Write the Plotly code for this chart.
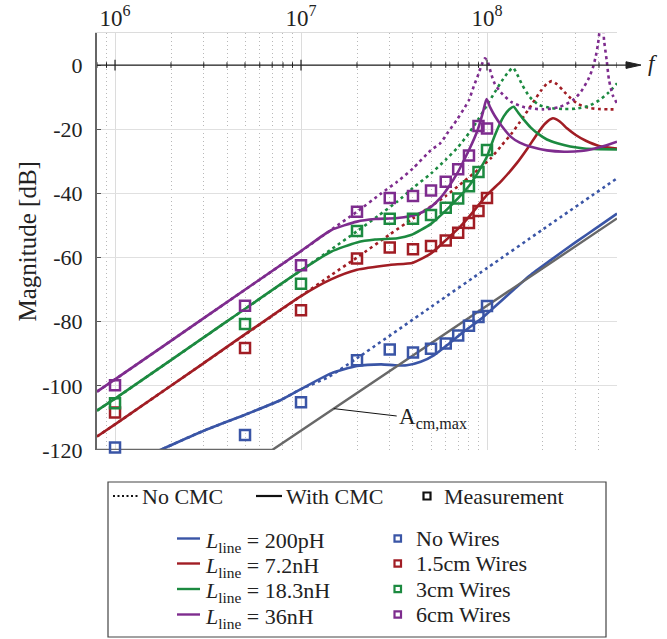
import math
import plotly.graph_objects as go

# ---------------- data ----------------
meas_f = [1e6, 5e6, 1e7, 2e7, 3e7, 4e7, 5e7, 6e7, 7e7, 8e7, 9e7, 1e8]
meas_blue = [-119.2, -115.3, -105.1, -92.0, -88.7, -89.6, -88.4, -86.8, -84.3, -81.3, -78.5, -75.1]
meas_red = [-108.3, -88.2, -76.4, -60.3, -56.9, -57.4, -56.4, -54.7, -52.3, -49.2, -45.5, -41.4]
meas_green = [-105.4, -80.7, -68.2, -51.7, -47.9, -47.9, -46.7, -44.5, -41.6, -37.8, -33.3, -26.5]
meas_purple = [-99.8, -75.0, -62.4, -45.7, -41.4, -40.8, -39.1, -36.4, -32.5, -28.2, -19.0, -19.8]

# No CMC (dotted)
blue_nocmc_f = [1e6, 1.75e6, 3e6, 5e6, 7.8e6, 1e7, 1.4e7, 2e7, 5e7, 1e8, 2e8, 5e8]
blue_nocmc_v = [-126, -120, -114, -109, -104.4, -101, -97.3, -91.4, -75.4, -63.3, -51.2, -35.3]

red_nocmc_f = [8e5, 1e6, 3e6, 1e7, 1.45e7, 2e7, 3e7, 4e7, 5e7, 6e7, 7.5e7, 9e7, 1.05e8, 1.2e8,
               1.35e8, 1.5e8, 1.65e8, 1.8e8, 1.95e8, 2.1e8, 2.23e8, 2.38e8, 2.55e8, 2.8e8,
               3.1e8, 3.5e8, 4e8, 4.5e8, 5e8]
red_nocmc_v = [-115.8, -112, -92.9, -72, -65.5, -60, -52.8, -47.8, -44, -40.8, -36.3, -32.5, -29,
               -25, -21.5, -17.8, -14.3, -11, -8, -5.8, -5.0, -6.0, -7.8, -10.2, -12.2, -13.3,
               -13.7, -13.8, -13.8]

green_nocmc_f = [8e5, 1e6, 3e6, 1e7, 1.45e7, 2e7, 2.6e7, 3.3e7, 4e7, 5e7, 6e7, 7e7, 8e7, 9e7,
                 1e8, 1.1e8, 1.2e8, 1.3e8, 1.38e8, 1.45e8, 1.55e8, 1.7e8, 1.9e8, 2.2e8, 2.6e8,
                 3e8, 3.5e8, 4e8, 4.5e8, 5e8]
green_nocmc_v = [-107.7, -104, -84.9, -64, -57.5, -51.8, -47, -42.5, -38.3, -33.8, -29.5, -25.5,
                 -21.2, -16.8, -12.5, -8.5, -5, -2.2, -0.8, -2.8, -6.3, -10, -12.4, -13.4,
                 -13.7, -13.6, -12.8, -11.0, -8.6, -5.7]

purple_nocmc_f = [8e5, 1e6, 3e6, 1e7, 1.45e7, 2e7, 2.7e7, 3.3e7, 4e7, 5e7, 5.6e7, 6.2e7, 6.9e7,
                  7.5e7, 8e7, 8.5e7, 9e7, 9.4e7, 9.75e7, 1.01e8, 1.05e8, 1.1e8, 1.19e8, 1.35e8,
                  1.6e8, 2e8, 2.45e8, 2.9e8, 3.2e8, 3.5e8, 3.7e8, 3.84e8, 3.95e8, 4.05e8,
                  4.13e8, 4.2e8, 4.26e8, 4.4e8, 4.53e8, 4.75e8, 5e8]
purple_nocmc_v = [-101.8, -98, -78.9, -58, -51.4, -45.7, -40.0, -36.3, -32.2, -26.5, -24.4,
                  -20.8, -17.0, -13.7, -10.9, -6.5, -2.8, 0.3, 2.1, 1.0, -2.5, -5.8, -8.6,
                  -11.5, -13.2, -13.8, -13.1, -10.9, -8.3, -4.5, -1.0, 2.6, 6.5, 12.0, 18.0,
                  13.0, 7.8, 1.5, -4.7, -9.5, -11.9]

# With CMC (solid)
blue_cmc_f = [1e6, 1.75e6, 3e6, 5e6, 7.8e6, 1e7, 1.45e7, 2e7, 2.7e7, 3.2e7, 3.7e7, 4.4e7, 5.2e7,
              6.1e7, 7.5e7, 9.25e7, 1.05e8, 1.2e8, 1.4e8, 1.7e8, 2.2e8, 3e8, 4e8, 5e8]
blue_cmc_v = [-126, -120, -114, -109, -104.4, -101, -96.1, -93.8, -93.3, -93.6, -93.6, -92.5,
              -90.4, -87.3, -83.1, -79.2, -76.4, -73.4, -69.9, -65.6, -60.8, -55.2, -50.2, -46.3]

red_cmc_f = [8e5, 1e6, 3e6, 1e7, 1.45e7, 2e7, 3e7, 4e7, 5e7, 5.9e7, 7e7, 8e7, 1e8, 1.2e8, 1.45e8,
             1.65e8, 1.87e8, 2.05e8, 2.26e8, 2.45e8, 2.7e8, 3e8, 3.4e8, 4e8, 5e8]
red_cmc_v = [-115.8, -112, -92.9, -72, -66.8, -63.8, -62.3, -61.6, -58.7, -55, -51, -47.3, -40.5,
             -36, -30.5, -26, -21.3, -18.3, -16.6, -17.5, -19.8, -21.8, -23.6, -25.2, -26.0]

green_cmc_f = [8e5, 1e6, 3e6, 1e7, 1.45e7, 2e7, 2.5e7, 3.3e7, 3.9e7, 5e7, 6.1e7, 7e7, 8e7, 9e7,
               1e8, 1.1e8, 1.23e8, 1.32e8, 1.39e8, 1.47e8, 1.58e8, 1.72e8, 1.87e8, 2.1e8,
               2.39e8, 2.8e8, 3.33e8, 4e8, 5e8]
green_cmc_v = [-107.7, -104, -84.9, -64, -58.2, -55.3, -54.4, -54.0, -53.0, -49.5, -45, -41.5,
               -37.7, -33.2, -28.5, -22, -16, -13.8, -13.0, -14.8, -17.1, -19.5, -21.3, -23.2,
               -24.4, -25.4, -26.0, -26.2, -26.3]

purple_cmc_f = [8e5, 1e6, 3e6, 1e7, 1.45e7, 2e7, 2.5e7, 3.3e7, 4.2e7, 5e7, 5.6e7, 6.1e7, 7e7,
                7.5e7, 8e7, 8.9e7, 9.5e7, 9.95e7, 1.04e8, 1.1e8, 1.2e8, 1.34e8, 1.5e8, 1.72e8,
                2.1e8, 2.6e8, 3.2e8, 3.8e8, 4.4e8, 5e8]
purple_cmc_v = [-101.8, -98, -78.9, -58, -51.5, -48.8, -48.0, -47.7, -46.6, -44.2, -41.5, -38.7,
                -33.2, -29.8, -26.5, -20.3, -14.8, -10.6, -13.2, -15.8, -19, -22.3, -24.2,
                -25.5, -26.6, -27.0, -26.8, -26.0, -25.0, -23.9]

acm_f = [8e5, 7e6, 5e8]
acm_v = [-120, -120, -47.8]

y_ticks = [0, -20, -40, -60, -80, -100, -120]
y_ticktext = ["0", "-20", "-40", "-60", "-80", "-100", "-120"]
x_ticks = [1e6, 1e7, 1e8]
x_ticktext = ["10<sup>6</sup>", "10<sup>7</sup>", "10<sup>8</sup>"]
minor_f = [k * 10 ** n for n in range(5, 9) for k in range(2, 10) if 8e5 <= k * 10 ** n <= 5e8]

line_labels = ["200pH", "7.2nH", "18.3nH", "36nH"]
meas_labels = ["No Wires", "1.5cm Wires", "3cm Wires", "6cm Wires"]

# ---------------- style ----------------
BLUE, RED, GREEN, PURPLE = "#3a55a6", "#a11d24", "#1c8a40", "#7e2c8e"
GRAY = "#686868"
FONT = "Liberation Serif, Times New Roman, DejaVu Serif, serif"
W, H = 667, 639
ML, MR, MT, MB = 97, 50, 33, 189
PW, PH = W - ML - MR, H - MT - MB


def px(x):
    return (x - ML) / PW


def py(y):
    return (H - MB - y) / PH


Y0 = 120 / 130  # paper position of y = 0 dB

fig = go.Figure()

colors = [BLUE, RED, GREEN, PURPLE]
nocmc = [(blue_nocmc_f, blue_nocmc_v), (red_nocmc_f, red_nocmc_v),
         (green_nocmc_f, green_nocmc_v), (purple_nocmc_f, purple_nocmc_v)]
cmc = [(blue_cmc_f, blue_cmc_v), (red_cmc_f, red_cmc_v),
       (green_cmc_f, green_cmc_v), (purple_cmc_f, purple_cmc_v)]
meas = [meas_blue, meas_red, meas_green, meas_purple]

for (f, v), c in zip(nocmc, colors):
    fig.add_trace(go.Scatter(x=f, y=v, mode="lines", showlegend=False, hoverinfo="skip",
                             line=dict(color=c, width=2.6, dash="3px,3.5px", shape="spline", smoothing=0.6)))
for (f, v), c in zip(cmc, colors):
    fig.add_trace(go.Scatter(x=f, y=v, mode="lines", showlegend=False, hoverinfo="skip",
                             line=dict(color=c, width=2.6, shape="spline", smoothing=0.6)))
fig.add_trace(go.Scatter(x=acm_f, y=acm_v, mode="lines", showlegend=False, hoverinfo="skip",
                         line=dict(color=GRAY, width=2.4)))
for m, c in zip(meas, colors):
    fig.add_trace(go.Scatter(x=meas_f, y=m, mode="markers", showlegend=False, cliponaxis=False,
                             hoverinfo="skip",
                             marker=dict(symbol="square-open", size=10, color=c, line=dict(width=2.5, color=c))))

shapes = []
# x axis line at 0 dB with arrow
shapes.append(dict(type="line", xref="paper", yref="paper", x0=0, x1=px(630), y0=Y0, y1=Y0,
                   line=dict(color="#222", width=1.4), layer="above"))
ya, yb = Y0 + 3.3 / PH, Y0 - 3.3 / PH
shapes.append(dict(type="path", xref="paper", yref="paper",
                   path=f"M {px(626)} {ya} L {px(641)} {Y0} L {px(626)} {yb} Z",
                   fillcolor="#222", line=dict(color="#222", width=1), layer="above"))
for f in x_ticks:
    shapes.append(dict(type="line", xref="x", yref="paper", x0=f, x1=f, y0=Y0 - 5.3 / PH, y1=Y0 + 5.3 / PH,
                       line=dict(color="#222", width=1.2), layer="above"))
for f in minor_f:
    shapes.append(dict(type="line", xref="x", yref="paper", x0=f, x1=f, y0=Y0 - 2.8 / PH, y1=Y0 + 2.8 / PH,
                       line=dict(color="#222", width=1), layer="above"))

# A_cm,max leader
shapes.append(dict(type="line", xref="x", yref="y", x0=1.5e7, y0=-107.1, x1=3.27e7, y1=-109.4,
                   line=dict(color="#111", width=1)))

# legend box
shapes.append(dict(type="rect", xref="paper", yref="paper", x0=px(108), x1=px(606), y0=py(482), y1=py(637),
                   line=dict(color="#444", width=1.2), fillcolor="white"))

annotations = []


def txt(x, y, s, size=22, xanchor="left", **kw):
    annotations.append(dict(xref="paper", yref="paper", x=px(x), y=py(y), text=s, showarrow=False,
                            xanchor=xanchor, yanchor="middle", font=dict(family=FONT, size=size, color="#222"), **kw))


r1 = 496
shapes.append(dict(type="line", xref="paper", yref="paper", x0=px(113), x1=px(138), y0=py(r1), y1=py(r1),
                   line=dict(color="#111", width=2, dash="2px,2.5px")))
txt(140, r1, "No CMC")
shapes.append(dict(type="line", xref="paper", yref="paper", x0=px(256), x1=px(282), y0=py(r1), y1=py(r1),
                   line=dict(color="#111", width=2.2)))
txt(284, r1, "With CMC")
shapes.append(dict(type="rect", xref="paper", yref="paper", x0=px(423.5), x1=px(430.5), y0=py(r1 - 3.5),
                   y1=py(r1 + 3.5), line=dict(color="#111", width=2.2)))
txt(442, r1, "Measurement")

rows = [538.5, 563.5, 589, 614.5]
for r, c, ll, ml in zip(rows, colors, line_labels, meas_labels):
    shapes.append(dict(type="line", xref="paper", yref="paper", x0=px(177), x1=px(200), y0=py(r), y1=py(r),
                       line=dict(color=c, width=2.4)))
    txt(203, r, f"<i>L</i><sub>line</sub> = {ll}", yshift=-3)
    shapes.append(dict(type="rect", xref="paper", yref="paper", x0=px(394.5), x1=px(401), y0=py(r - 3.2),
                       y1=py(r + 3.2), line=dict(color=c, width=2.2)))
    txt(414, r, ml)

# f label
txt(646, 64, "<i>f</i>", size=23)
# y title
annotations.append(dict(xref="paper", yref="paper", x=px(27), y=0.5, text="Magnitude [dB]", showarrow=False,
                        textangle=-90, xanchor="center", yanchor="middle",
                        font=dict(family=FONT, size=25, color="#222")))
# A_cm,max label (annotation x on a log axis is given in log10 units)
annotations.append(dict(xref="x", yref="y", x=math.log10(3.3e7), y=-110.0, text="A<sub>cm,max</sub>",
                        showarrow=False, xanchor="left", yanchor="middle",
                        font=dict(family=FONT, size=23, color="#222")))

fig.update_layout(
    width=W, height=H, margin=dict(l=ML, r=MR, t=MT, b=MB, autoexpand=False),
    paper_bgcolor="white", plot_bgcolor="white", showlegend=False, hovermode=False,
    shapes=shapes, annotations=annotations,
    xaxis=dict(type="log", range=[5.90309, 8.69897], side="top", tickmode="array", tickvals=x_ticks,
               ticktext=x_ticktext, ticks="", showgrid=True, gridcolor="#dcdcdc", gridwidth=1,
               showline=True, linecolor="#dcdcdc", linewidth=1, zeroline=False,
               tickfont=dict(family=FONT, size=23, color="#222"), ticklabelstandoff=-3,
               minor=dict(tickmode="array", tickvals=minor_f, showgrid=True, gridcolor="#b8b8b8",
                          griddash="1px,3px", gridwidth=1, ticks="")),
    yaxis=dict(range=[-120, 10], tickmode="array", tickvals=y_ticks, ticktext=y_ticktext,
               ticks="inside", ticklen=4, tickcolor="#555", showgrid=True, gridcolor="#e0e0e0",
               gridwidth=1, showline=True, linecolor="#666", linewidth=2, zeroline=False,
               tickfont=dict(family=FONT, size=22, color="#222"), ticklabelstandoff=8),
)

fig.write_html("out.html", config={"displayModeBar": False, "staticPlot": True},
               post_script="document.body.style.margin='0px';")
